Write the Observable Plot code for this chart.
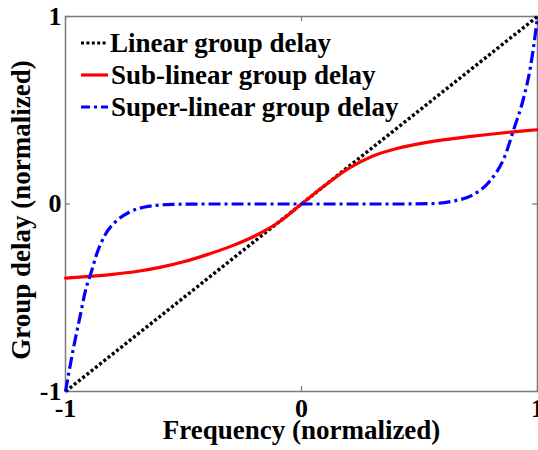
<!DOCTYPE html>
<html>
<head>
<meta charset="utf-8">
<script src="https://cdn.jsdelivr.net/npm/d3@7"></script>
<script src="https://cdn.jsdelivr.net/npm/@observablehq/plot@0.6"></script>
<style>
  body { margin: 0; background: #fff; }
  #chart svg { display: block; }
</style>
</head>
<body>
<div id="chart"></div>
<script>
// Normalized frequency axis and the three group-delay profiles
const linearFreq = [-1, 1];
const linearDelay = [-1, 1];

const subFreq = [-1, -0.9, -0.8, -0.7, -0.6, -0.5, -0.4, -0.3, -0.2, -0.1, 0,
                 0.1, 0.2, 0.3, 0.4, 0.5, 0.6, 0.7, 0.8, 0.9, 1];
const subDelay = [-0.395, -0.386, -0.375, -0.36, -0.338, -0.308, -0.27, -0.226, -0.172, -0.1, 0,
                  0.1, 0.19, 0.255, 0.295, 0.322, 0.342, 0.358, 0.372, 0.385, 0.396];

const superFreq = [-1, -0.98, -0.965, -0.94, -0.915, -0.89, -0.87, -0.83, -0.79, -0.73, -0.65, -0.55, -0.4,
                   0, 0.4, 0.55, 0.64, 0.72, 0.8, 0.86, 0.9, 0.94, 0.97, 0.99, 1];
const superDelay = [-1, -0.86, -0.76, -0.61, -0.46, -0.36, -0.275, -0.16, -0.097, -0.044, -0.013, -0.002, 0,
                    0, 0, 0.002, 0.015, 0.045, 0.125, 0.25, 0.4, 0.56, 0.73, 0.9, 1];

const xTicks = [-1, 0, 1];
const yTicks = [-1, 0, 1];
const seriesNames = ["Linear group delay", "Sub-linear group delay", "Super-linear group delay"];
const xLabel = "Frequency (normalized)";
const yLabel = "Group delay (normalized)";

const W = 538, H = 450;
const mL = 65, mR = 1, mT = 16, mB = 59;
const innerW = W - mL - mR, innerH = H - mT - mB;
const serif = "'Liberation Serif', 'Times New Roman', Times, serif";
const frameColor = "#7a7a7a";

const pts = (xs, ys) => xs.map((x, i) => ({x, y: ys[i]}));
const linear = pts(linearFreq, linearDelay);
const sub = pts(subFreq, subDelay);
const sup = pts(superFreq, superDelay);

const chart = Plot.plot({
  width: W, height: H,
  marginLeft: mL, marginRight: mR, marginTop: mT, marginBottom: mB,
  style: {fontFamily: serif, fontWeight: "bold", background: "#fff", color: "#000", overflow: "visible"},
  x: {domain: [-1, 1]},
  y: {domain: [-1, 1]},
  marks: [
    // tick labels only; inward tick stubs are drawn as short rules
    Plot.axisX({ticks: xTicks, tickSize: 0, tickPadding: 7, fontSize: 26, label: null, tickFormat: d => d}),
    Plot.axisY({ticks: yTicks, tickSize: 0, tickPadding: 4, fontSize: 26, label: null, tickFormat: d => d}),
    Plot.ruleX(xTicks, {insetTop: innerH - 5, stroke: frameColor, strokeWidth: 1.2}),
    Plot.ruleX(xTicks, {insetBottom: innerH - 5, stroke: frameColor, strokeWidth: 1.2}),
    Plot.ruleY(yTicks, {insetRight: innerW - 5, stroke: frameColor, strokeWidth: 1.2}),
    Plot.ruleY(yTicks, {insetLeft: innerW - 5, stroke: frameColor, strokeWidth: 1.2}),
    Plot.frame({stroke: frameColor, strokeWidth: 1.5}),
    Plot.line(linear, {x: "x", y: "y", stroke: "#000", strokeWidth: 3.4, strokeLinecap: "butt", strokeDasharray: "3,2.4"}),
    Plot.line(sub, {x: "x", y: "y", stroke: "#ff0000", strokeWidth: 3.2, curve: "catmull-rom"}),
    Plot.line(sup, {x: "x", y: "y", stroke: "#0000ff", strokeWidth: 3.2, strokeLinecap: "butt", curve: "monotone-x", strokeDasharray: "12,4,3,4"}),
    Plot.text([xLabel], {frameAnchor: "bottom", textAnchor: "middle", lineAnchor: "middle", dy: 39, fontSize: 27, fill: "#000", text: d => d}),
    Plot.text([yLabel], {frameAnchor: "left", textAnchor: "middle", lineAnchor: "middle", dx: -44, dy: 6, rotate: -90, fontSize: 27, fill: "#000", text: d => d})
  ]
});

document.getElementById("chart").appendChild(chart);

// Legend inside the upper-left corner of the axes
const legendStyles = [
  {stroke: "#000", dash: "3,2.4"},
  {stroke: "#ff0000", dash: null},
  {stroke: "#0000ff", dash: "9,4,3,4"}
];
const svg = d3.select(chart);
const legend = svg.append("g")
  .attr("font-family", serif).attr("font-weight", "bold").attr("font-size", 27)
  .attr("text-anchor", "start");
seriesNames.forEach((name, i) => {
  const cy = 43 + i * 32;
  legend.append("line")
    .attr("x1", 81).attr("x2", 108).attr("y1", cy).attr("y2", cy)
    .attr("stroke", legendStyles[i].stroke).attr("stroke-width", 3.2)
    .attr("stroke-linecap", "butt")
    .attr("stroke-dasharray", legendStyles[i].dash);
  legend.append("text")
    .attr("x", i === 0 ? 110 : 111).attr("y", cy + 9)
    .attr("fill", "#000")
    .text(name);
});
</script>
</body>
</html>
